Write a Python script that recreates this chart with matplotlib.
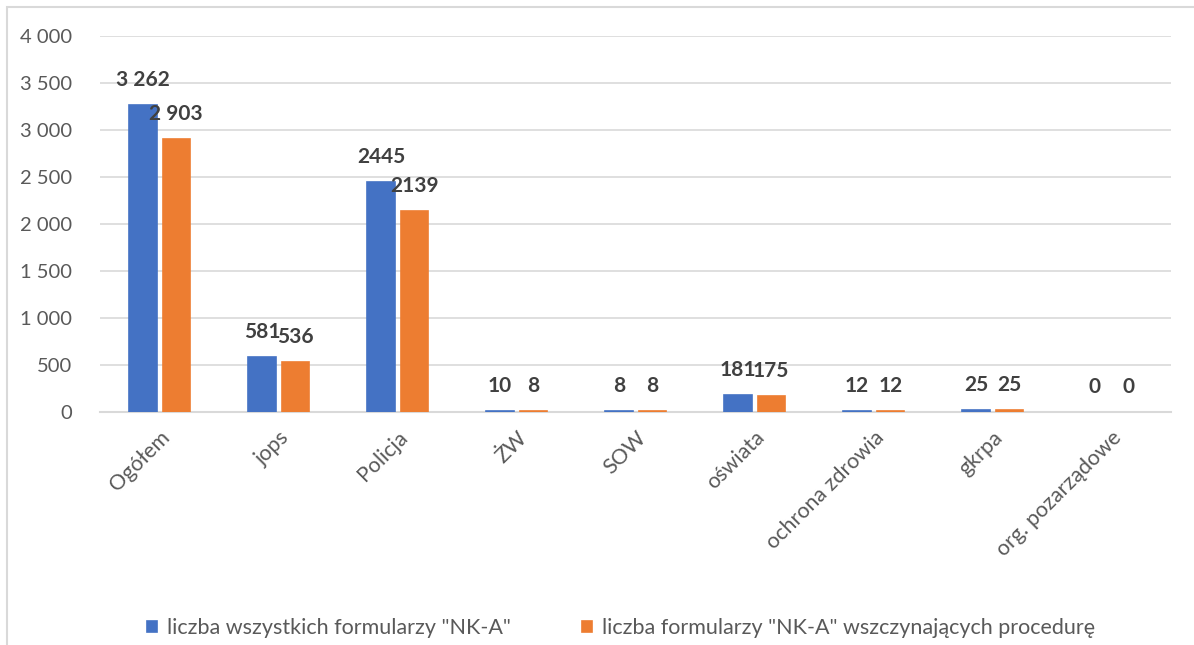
import numpy as np
import matplotlib.pyplot as plt
from matplotlib.patches import Rectangle

# chart data
categories = ["Ogółem", "jops", "Policja", "ŻW", "SOW", "oświata",
              "ochrona zdrowia", "gkrpa", "org. pozarządowe"]
all_forms = [3262, 581, 2445, 10, 8, 181, 12, 25, 0]
proc_forms = [2903, 536, 2139, 8, 8, 175, 12, 25, 0]
all_labels = ["3 262", "581", "2445", "10", "8", "181", "12", "25", "0"]
proc_labels = ["2 903", "536", "2139", "8", "8", "175", "12", "25", "0"]
series_names = ['liczba wszystkich formularzy "NK-A"',
                'liczba formularzy "NK-A" wszczynających procedurę']
y_ticks = [0, 500, 1000, 1500, 2000, 2500, 3000, 3500, 4000]

BLUE = "#4472C4"
ORANGE = "#ED7D31"
GRID = "#D9D9D9"
TXT = "#595959"
LBL = "#404040"

plt.rcParams["font.family"] = ["Lato", "DejaVu Sans"]

fig = plt.figure(figsize=(11.94, 6.45), dpi=100)
ax = fig.add_axes([0.0838, 0.3612, 0.897, 0.583])

x = np.arange(len(categories))
w = 0.23
off = 0.14


def edges(vals, color):
    # thin outline so tiny bars still show as a line, none for zero
    return [color if v > 0 else "none" for v in vals]


b1 = ax.bar(x - off, all_forms, w, color=BLUE, label=series_names[0],
            edgecolor=edges(all_forms, BLUE), linewidth=1.2, zorder=3)
b2 = ax.bar(x + off, proc_forms, w, color=ORANGE, label=series_names[1],
            edgecolor=edges(proc_forms, ORANGE), linewidth=1.2, zorder=3)

for rects, labels in ((b1, all_labels), (b2, proc_labels)):
    for r, t in zip(rects, labels):
        ax.annotate(t, (r.get_x() + r.get_width() / 2, r.get_height()),
                    xytext=(0, 18), textcoords="offset points",
                    ha="center", va="center", fontsize=15, fontweight="bold",
                    color=LBL)

ax.set_xlim(-0.5, len(categories) - 0.5)
ax.set_ylim(0, 4000)
ax.set_yticks(y_ticks)
ax.set_yticklabels([f"{v:,}".replace(",", " ") for v in y_ticks])
ax.yaxis.grid(True, color=GRID, linewidth=1.2)
ax.set_axisbelow(True)
for s in ("top", "right", "left"):
    ax.spines[s].set_visible(False)
ax.spines["bottom"].set_color(GRID)
ax.spines["bottom"].set_linewidth(1.5)
ax.tick_params(axis="y", length=0, pad=20, labelsize=14.5, labelcolor=TXT)
ax.tick_params(axis="x", length=0, pad=11, labelsize=15.5, labelcolor=TXT)
ax.set_xticks(x)
ax.set_xticklabels(categories, rotation=45, ha="right", va="top",
                   rotation_mode="anchor")

fig.legend(handles=[b1, b2], loc="center", bbox_to_anchor=(0.52, 0.026),
           ncol=2, frameon=False, fontsize=15.5, labelcolor=TXT,
           handlelength=0.47, handleheight=0.47, handletextpad=0.47,
           columnspacing=3.3)

fig.patches.append(Rectangle((7 / 1194, -0.1), 1.2, 1.1 - 7 / 645,
                             transform=fig.transFigure, fill=False,
                             edgecolor=GRID, linewidth=1.5))

fig.savefig("out.png", dpi=100)
